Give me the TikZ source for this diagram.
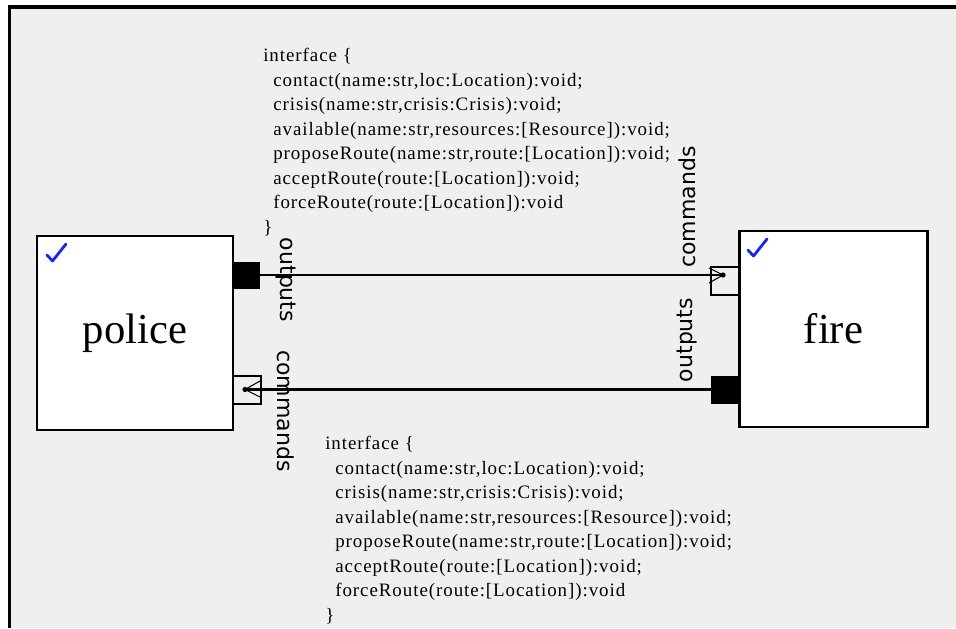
\documentclass[tikz,border=0pt]{standalone}
\usepackage{fontspec}
\setmainfont{Liberation Serif}
\newfontfamily\labelfont{DejaVu Sans}
\newfontfamily\ifacefont[LetterSpace=5]{Liberation Serif}
\definecolor{panelbg}{HTML}{EFEFEF}
\definecolor{checkblue}{RGB}{20,40,235}
\begin{document}
\begin{tikzpicture}[x=0.75pt,y=-0.75pt,
  compbox/.style={draw=black,line width=2.2pt,fill=white,inner sep=0pt,outer sep=0pt,
    font=\fontsize{32}{36}\selectfont},
  outport/.style={fill=black,draw=black,line width=0.6pt,minimum size=20pt,inner sep=0pt,outer sep=0pt},
  inport/.style={draw=black,fill=none,line width=0.9pt,minimum size=21pt,inner sep=0pt,outer sep=0pt},
  conn/.style={draw=black,line width=1.6pt},
  recv/.style={draw=black,line width=0.8pt},
  portlabel/.style={font=\labelfont\fontsize{16.5}{18}\selectfont,inner sep=0pt},
  iface/.style={font=\ifacefont\fontsize{14.2}{18.4}\selectfont,align=left,inner sep=0pt,anchor=north west},
  checkmark/.style={draw=checkblue,line width=2.1pt,line join=round,line cap=round}
]
\useasboundingbox (0,0) rectangle (956,628);
\fill[white] (0,0) rectangle (956,628);
\fill[panelbg] (9.5,7) rectangle (956,628);
\draw[line width=2.4pt] (9.5,628) -- (9.5,7) -- (956,7);

% components
\node[compbox,minimum width=147pt,minimum height=145.5pt] (police) at (135,333) {police};
\node[compbox,minimum width=141.5pt,minimum height=147pt] (fire) at (833.5,329) {fire};

% check marks
\draw[checkmark] (47,255) -- (52.5,261) -- (66,244);
\draw[checkmark] (748,250) -- (753.5,256) -- (767,239);

% ports
\node[outport] (pout) at (246.5,275.5) {};
\node[inport] (pin) at (247,390) {};
\node[inport] (fin) at (725,281) {};
\node[outport] (fout) at (725,390) {};

\coordinate (pdot) at (245,389.5);
\coordinate (fdot) at (723,275);

% connectors
\draw[conn] (pout.east |- 0,275) -- (fdot);
\draw[conn] (fout.west |- 0,389.5) -- (pdot);
\fill (fdot) circle (2.6);
\fill (pdot) circle (2.6);
\draw[recv] (709,268) -- (fdot) -- (709,283);
\draw[recv] (260,381) -- (pdot) -- (260,397);

% port labels
\node[portlabel,rotate=-90] (lpout) at (286,280) {outputs};
\node[portlabel,rotate=-90] (lpin) at (286,411) {commands};
\node[portlabel,rotate=90] (lfin) at (687,207) {commands};
\node[portlabel,rotate=90] (lfout) at (687,340) {outputs};

% interface texts
\node[iface] (ifaceA) at (263,48) {interface \{\\
\hspace*{7.5pt}contact(name:str,loc:Location):void;\\
\hspace*{7.5pt}crisis(name:str,crisis:Crisis):void;\\
\hspace*{7.5pt}available(name:str,resources:[Resource]):void;\\
\hspace*{7.5pt}proposeRoute(name:str,route:[Location]):void;\\
\hspace*{7.5pt}acceptRoute(route:[Location]):void;\\
\hspace*{7.5pt}forceRoute(route:[Location]):void\\
\}};
\node[iface] (ifaceB) at (325,436) {interface \{\\
\hspace*{7.5pt}contact(name:str,loc:Location):void;\\
\hspace*{7.5pt}crisis(name:str,crisis:Crisis):void;\\
\hspace*{7.5pt}available(name:str,resources:[Resource]):void;\\
\hspace*{7.5pt}proposeRoute(name:str,route:[Location]):void;\\
\hspace*{7.5pt}acceptRoute(route:[Location]):void;\\
\hspace*{7.5pt}forceRoute(route:[Location]):void\\
\}};
\end{tikzpicture}
\end{document}
